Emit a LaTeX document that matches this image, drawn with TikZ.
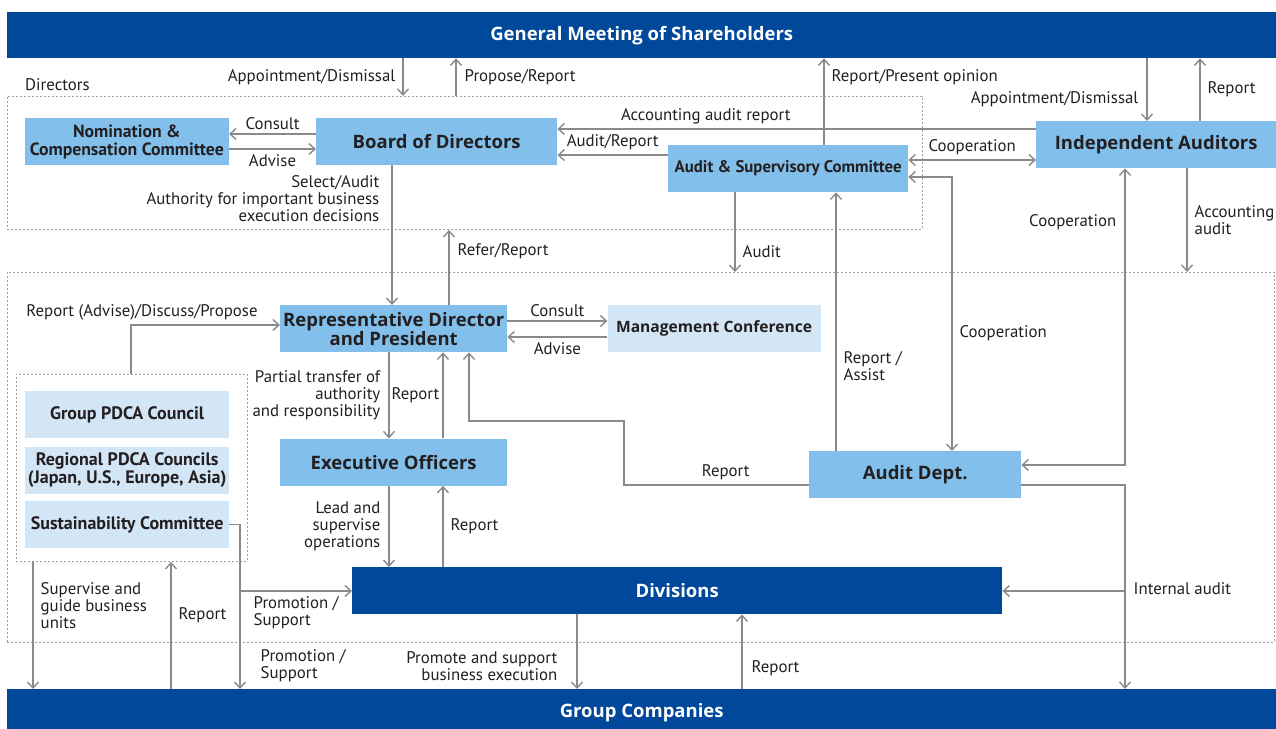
\documentclass[tikz,border=0pt]{standalone}
\usepackage{fontspec}
\setmainfont{PT Sans}
\newfontfamily\boxfont{Open Sans}
\usepackage{tikz}
\usetikzlibrary{positioning}
\usetikzlibrary{arrows.meta}
\definecolor{navycolor}{RGB}{0,72,154}
\definecolor{unitcolor}{RGB}{130,191,234}
\definecolor{palecolor}{RGB}{211,230,246}
\definecolor{linecolor}{RGB}{138,138,138}
\definecolor{inkcolor}{RGB}{35,31,32}

\begin{document}
\begin{tikzpicture}[
    x=1pt, y=-1pt,
    bar/.style={rectangle, fill=navycolor, text=white, inner sep=0pt, font=\boxfont\fontsize{18.5}{20}\selectfont\bfseries},
    unit/.style={rectangle, fill=unitcolor, text=inkcolor, minimum height=47pt, inner sep=0pt, align=center, font=\boxfont\fontsize{18.5}{19}\selectfont\bfseries},
    council/.style={rectangle, fill=palecolor, text=inkcolor, minimum width=204pt, minimum height=47pt, inner sep=0pt, align=center, font=\fontsize{18}{18}\selectfont\bfseries},
    frame/.style={rectangle, draw=linecolor!80, dash pattern=on 2pt off 2pt, line width=0.9pt, inner sep=0pt},
    lbl/.style={font=\fontsize{16.8}{17}\selectfont, text=inkcolor, inner sep=0pt},
    arrow/.style={draw=linecolor, line width=1.4pt, -{Straight Barb[length=6pt,width=11pt]}},
    bidir/.style={draw=linecolor, line width=1.4pt, {Straight Barb[length=6pt,width=11pt]}-{Straight Barb[length=6pt,width=11pt]}}
]
\useasboundingbox (0,0) rectangle (1276,728);

% Frames
\node[frame, minimum width=915pt, minimum height=133pt, anchor=north west] (dirs) at (7,96) {};
\node[lbl, anchor=base west, xshift=18pt, yshift=6pt] (dirlabel) at (dirs.north west) {Directors};
\node[frame, minimum width=1267pt, minimum height=370pt, anchor=north west] (ops) at (7,272) {};
\node[frame, minimum width=231pt, minimum height=187pt, anchor=north west] (cframe) at (16,374) {};

% Shareholders and group companies
\node[bar, minimum width=1269pt, minimum height=46pt, anchor=north west] (gms) at (7,12) {General Meeting of Shareholders};
\node[bar, minimum width=1269pt, minimum height=46pt, anchor=north west] (gco) at (7,689) {Group Companies};

% Directors
\node[unit, minimum width=241pt, anchor=north west] (board) at (316,118) {Board of Directors};
\node[unit, minimum width=204pt, left=87pt of board, font=\fontsize{17.7}{18}\selectfont\bfseries] (nom) {Nomination \&\\Compensation Committee};
\node[unit, minimum width=240pt, anchor=north west, font=\fontsize{16.8}{17}\selectfont\bfseries] (asc) at (668,145) {Audit \& Supervisory Committee};
\node[unit, minimum width=240pt, anchor=north west] (ia) at (1036,121) {Independent Auditors};

% Execution
\node[unit, minimum width=227pt, anchor=north west] (rep) at (280,305) {Representative Director\\and President};
\node[unit, minimum width=213pt, right=100pt of rep, fill=palecolor, font=\boxfont\fontsize{15.6}{18}\selectfont\bfseries] (mgmt) {Management Conference};
\node[unit, minimum width=227pt, below=86pt of rep] (exec) {Executive Officers};
\node[unit, minimum width=212pt, anchor=north west] (adept) at (809,451) {Audit Dept.};
\node[bar, minimum width=650pt, minimum height=47pt, anchor=north west] (div) at (352,567) {Divisions};

% Councils
\node[council, anchor=north west] (pdca) at (25,391) {Group PDCA Council};
\node[council, below=8pt of pdca] (regional) {Regional PDCA Councils\\(Japan, U.S., Europe, Asia)};
\node[council, below=7pt of regional] (sus) {Sustainability Committee};

% Shareholders arrows
\draw[arrow] (403,0 |- gms.south) -- node[lbl, left=7pt] {Appointment/Dismissal} (403,0 |- dirs.north);
\draw[arrow] (456,0 |- dirs.north) -- node[lbl, right=8pt] {Propose/Report} (456,0 |- gms.south);
\draw[arrow] (824,0 |- asc.north) -- node[lbl, pos=0.78, right=7pt] {Report/Present opinion} (824,0 |- gms.south);
\draw[arrow] (1147,0 |- gms.south) -- node[lbl, pos=0.65, left=8pt] {Appointment/Dismissal} (1147,0 |- ia.north);
\draw[arrow] (1200,0 |- ia.north) -- node[lbl, right=7pt] {Report} (1200,0 |- gms.south);

% Board arrows
\draw[arrow] (board.west |- 0,134) -- node[lbl, above=4pt] {Consult} (nom.east |- 0,134);
\draw[arrow] (nom.east |- 0,149) -- node[lbl, below=5pt] {Advise} (board.west |- 0,149);
\draw[arrow] (ia.west |- 0,129) -- node[lbl, pos=0.69, above=4pt] {Accounting audit report} (board.east |- 0,129);
\draw[arrow] (asc.west |- 0,155) -- node[lbl, above=4pt] {Audit/Report} (board.east |- 0,155);
\draw[bidir] (asc.east |- 0,160) -- node[lbl, above=4pt] {Cooperation} (ia.west |- 0,160);
\draw[arrow] (392,0 |- board.south) -- node[lbl, pos=0, anchor=north east, align=right, xshift=-12pt, yshift=-9pt] {Select/Audit\\Authority for important business\\execution decisions} (392,0 |- rep.north);
\draw[arrow] (449,0 |- rep.north) -- node[lbl, pos=0.71, right=8pt] {Refer/Report} (449,0 |- dirs.south);

% Audit arrows
\draw[arrow] (735,0 |- asc.south) -- node[lbl, pos=0.74, right=7pt] {Audit} (735,0 |- ops.north);
\draw[arrow] (836,0 |- adept.north) -- node[lbl, pos=0.33, right=7pt, align=left] {Report /\\Assist} (836,0 |- asc.south);
\draw[bidir] (asc.east |- 0,177) -| node[lbl, pos=0.785, right=7pt] {Cooperation} (952,0 |- adept.north);
\draw[bidir] (1125,0 |- ia.south) |- node[lbl, pos=0.09, left=8pt] {Cooperation} (adept.east |- 0,465);
\draw[arrow] (1187,0 |- ia.south) -- node[lbl, right=7pt, align=left] {Accounting\\audit} (1187,0 |- ops.north);

% President arrows
\draw[arrow] (rep.east |- 0,321) -- node[lbl, above=4pt] {Consult} (mgmt.west |- 0,321);
\draw[arrow] (mgmt.west |- 0,337) -- node[lbl, below=5pt] {Advise} (rep.east |- 0,337);
\draw[arrow] (adept.west |- 0,485) -- node[lbl, pos=0.45, above=4pt] {Report} (624,485) |- (469,421) -- (469,0 |- rep.south);
\draw[arrow] (389,0 |- rep.south) -- node[lbl, left=8pt, align=right] {Partial transfer of\\authority\\and responsibility} (389,0 |- exec.north);
\draw[arrow] (443,0 |- exec.north) -- node[lbl, left=3pt] {Report} (443,0 |- rep.south);
\draw[arrow] (389,0 |- exec.south) -- node[lbl, left=8pt, align=right] {Lead and\\supervise\\operations} (389,0 |- div.north);
\draw[arrow] (443,0 |- div.north) -- node[lbl, right=7pt] {Report} (443,0 |- exec.south);
\draw[arrow] (131,0 |- cframe.north) |- node[lbl, pos=0.5, above=4pt, xshift=11pt] {Report (Advise)/Discuss/Propose} (rep.west |- 0,325);

% Divisions arrows
\coordinate (promo) at (240,591);
\coordinate (iabranch) at (1125,591);
\draw[arrow] (sus.east) -| node[lbl, pos=0.93, right=20pt, align=left] {Promotion /\\Support} (240,0 |- gco.north);
\draw[arrow] (promo) -- node[lbl, pos=0, anchor=north west, xshift=13pt, yshift=-5pt, align=left] {Promotion /\\Support} (div.west |- promo);
\draw[arrow] (adept.east |- 0,485) -| (1125,0 |- gco.north);
\draw[arrow] (iabranch) -- node[lbl, pos=0, right=8pt, yshift=2pt] {Internal audit} (div.east |- iabranch);
\draw[arrow] (33,0 |- cframe.south) -- node[lbl, pos=0.34, right=7pt, align=left] {Supervise and\\guide business\\units} (33,0 |- gco.north);
\draw[arrow] (171,0 |- gco.north) -- node[lbl, pos=0.58, right=7pt] {Report} (171,0 |- cframe.south);
\draw[arrow] (577,0 |- div.south) -- node[lbl, pos=0.69, left=19pt, align=right] {Promote and support\\business execution} (577,0 |- gco.north);
\draw[arrow] (742,0 |- gco.north) -- node[lbl, pos=0.28, right=9pt] {Report} (742,0 |- div.south);

\end{tikzpicture}
\end{document}
